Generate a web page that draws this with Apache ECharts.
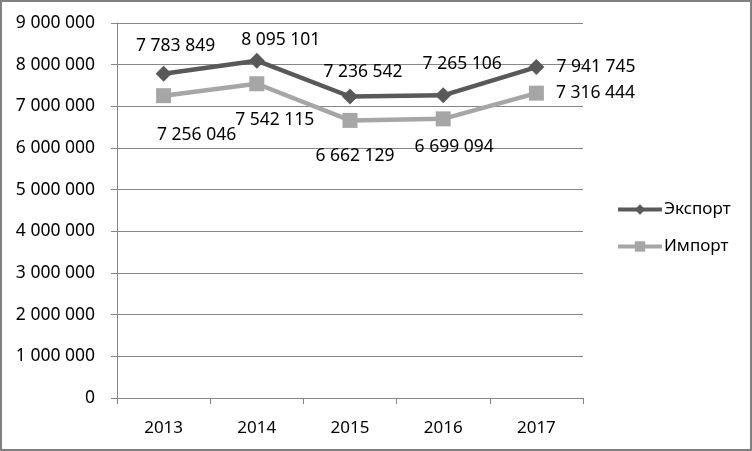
<!doctype html>
<html>

<head>
  <meta charset="utf-8">
  <title>Экспорт и импорт</title>
  <script src="https://cdn.jsdelivr.net/npm/echarts@6/dist/echarts.min.js"></script>
  <style>
    html,
    body {
      margin: 0;
      padding: 0;
      background: #fff;
    }

    #main {
      width: 752px;
      height: 451px;
    }
  </style>
</head>

<body>
  <div id="main"></div>
</body>

<script type="text/javascript">
  var years = ['2013', '2014', '2015', '2016', '2017'];
  var exportValues = [7783849, 8095101, 7236542, 7265106, 7941745];
  var importValues = [7256046, 7542115, 6662129, 6699094, 7316444];

  // сдвиги подписей, как в исходной диаграмме
  var exportLabelOffset = [[12, -28], [24, -21], [13, -24], [19, -31], [0, 0]];
  var importLabelOffset = [[33, 39], [18, 36], [5, 36], [11, 28], [0, 0]];

  var font = 'Noto Sans';

  function fmt(v) {
    return String(v).replace(/\B(?=(\d{3})+(?!\d))/g, ' ');
  }

  function buildData(values, offsets) {
    return values.map(function (v, i) {
      var last = i === values.length - 1;
      return {
        value: v,
        label: last ? { position: 'right', distance: 12, offset: [0, 0] }
          : { position: 'inside', offset: offsets[i] }
      };
    });
  }

  var option = {
    animation: false,
    textStyle: { fontFamily: font },
    graphic: [{
      type: 'rect',
      shape: { x: 1, y: 1, width: 750, height: 449 },
      style: { fill: 'none', stroke: '#808080', lineWidth: 2 }
    }],
    grid: {
      left: 117,
      right: 169,
      top: 23,
      bottom: 53
    },
    legend: {
      orient: 'vertical',
      left: 611,
      top: 196,
      itemWidth: 44,
      itemHeight: 13,
      itemGap: 20,
      lineStyle: { width: 4 },
      textStyle: { fontFamily: font, fontSize: 17, color: '#000', padding: [0, 0, 0, -3] },
      data: ['Экспорт', 'Импорт']
    },
    xAxis: {
      type: 'category',
      data: years,
      boundaryGap: true,
      axisLine: { lineStyle: { color: '#868686', width: 1 } },
      axisTick: { show: true, length: 6, lineStyle: { color: '#868686' } },
      axisLabel: { color: '#000', fontSize: 17, fontFamily: font, margin: 22 }
    },
    yAxis: {
      type: 'value',
      min: 0,
      max: 9000000,
      interval: 1000000,
      axisLine: { show: true, lineStyle: { color: '#868686', width: 1 } },
      axisTick: { show: true, length: 6, lineStyle: { color: '#868686' } },
      splitLine: { lineStyle: { color: '#868686', width: 1 } },
      axisLabel: {
        color: '#000',
        fontSize: 17.5,
        fontFamily: font,
        margin: 22,
        formatter: fmt
      }
    },
    series: [
      {
        name: 'Экспорт',
        type: 'line',
        data: buildData(exportValues, exportLabelOffset),
        symbol: 'diamond',
        symbolSize: 16,
        lineStyle: { color: '#595959', width: 4.5 },
        itemStyle: { color: '#595959' },
        label: {
          show: true,
          color: '#000',
          fontSize: 17.5,
          fontFamily: font,
          formatter: function (p) { return fmt(p.value); }
        },
        z: 3
      },
      {
        name: 'Импорт',
        type: 'line',
        data: buildData(importValues, importLabelOffset),
        symbol: 'rect',
        symbolSize: 15,
        lineStyle: { color: '#a6a6a6', width: 4.5 },
        itemStyle: { color: '#a6a6a6' },
        label: {
          show: true,
          color: '#000',
          fontSize: 17.5,
          fontFamily: font,
          formatter: function (p) { return fmt(p.value); }
        },
        z: 2
      }
    ]
  };

  var myChart = echarts.init(document.getElementById('main'));
  myChart.setOption(option);
</script>

</html>
